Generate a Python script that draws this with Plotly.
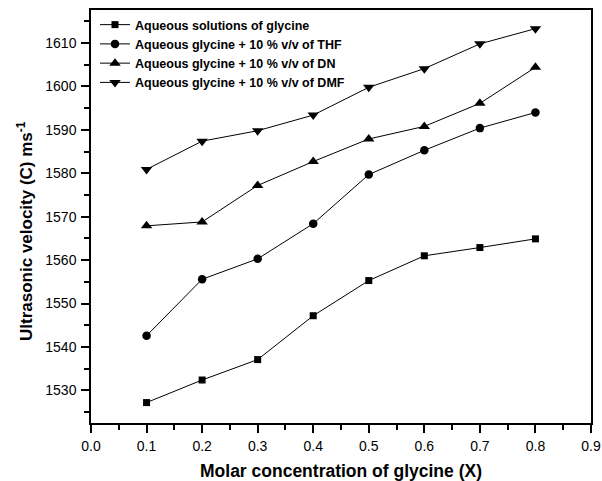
import plotly.graph_objects as go

x_vals = [0.1, 0.2, 0.3, 0.4, 0.5, 0.6, 0.7, 0.8]
glycine = [1527.2, 1532.4, 1537.1, 1547.2, 1555.3, 1561.0, 1562.9, 1564.9]
thf = [1542.6, 1555.6, 1560.3, 1568.4, 1579.7, 1585.3, 1590.4, 1594.0]
dn = [1567.9, 1568.8, 1577.2, 1582.7, 1587.9, 1590.8, 1596.1, 1604.4]
dmf = [1580.9, 1587.4, 1589.8, 1593.4, 1599.8, 1604.1, 1609.8, 1613.3]

names = ["Aqueous solutions of glycine",
         "Aqueous glycine + 10 % v/v of THF",
         "Aqueous glycine + 10 % v/v of DN",
         "Aqueous glycine + 10 % v/v of DMF"]
symbols = ["square", "circle", "triangle-up", "triangle-down"]
sizes = [7, 8.5, 10, 10]
series = [glycine, thf, dn, dmf]

x_ticks = [0.0, 0.1, 0.2, 0.3, 0.4, 0.5, 0.6, 0.7, 0.8, 0.9]
x_ticktext = ["0.0", "0.1", "0.2", "0.3", "0.4", "0.5", "0.6", "0.7", "0.8", "0.9"]
y_ticks = [1530, 1540, 1550, 1560, 1570, 1580, 1590, 1600, 1610]

fig = go.Figure()
for nm, sym, sz, ys in zip(names, symbols, sizes, series):
    fig.add_trace(go.Scatter(
        x=x_vals, y=ys, name=nm, mode="lines+markers",
        line=dict(color="black", width=1),
        marker=dict(symbol=sym, size=sz, color="black"),
    ))

font_family = "Liberation Sans, Arial, sans-serif"
fig.update_layout(
    width=602, height=481,
    margin=dict(l=91, r=11, t=10, b=58),
    paper_bgcolor="white", plot_bgcolor="white",
    font=dict(family=font_family, color="black"),
    showlegend=True,
    legend=dict(x=0.008, y=1.0, xanchor="left", yanchor="top",
                bgcolor="rgba(0,0,0,0)",
                font=dict(size=12.5, weight="bold", family=font_family),
                tracegroupgap=0, itemwidth=30),
    xaxis=dict(
        range=[0.0, 0.9], tickvals=x_ticks, ticktext=x_ticktext,
        automargin=False,
        ticks="outside", ticklen=8, tickwidth=1.5, tickcolor="black",
        ticklabelstandoff=1,
        minor=dict(dtick=0.05, ticks="outside", ticklen=5, tickwidth=1.5, tickcolor="black", showgrid=False),
        showline=True, linecolor="black", linewidth=1.5, mirror=True,
        showgrid=False, zeroline=False,
        tickfont=dict(size=14),
    ),
    yaxis=dict(
        range=[1522.5, 1617.6], tickvals=y_ticks,
        automargin=False,
        ticks="outside", ticklen=8, tickwidth=1.5, tickcolor="black",
        ticklabelstandoff=2,
        minor=dict(dtick=5, tick0=1525, ticks="outside", ticklen=5, tickwidth=1.5, tickcolor="black", showgrid=False),
        showline=True, linecolor="black", linewidth=1.5, mirror=True,
        showgrid=False, zeroline=False,
        tickfont=dict(size=14),
    ),
    annotations=[
        dict(
            text="Ultrasonic velocity (C) ms<sup>-1</sup>",
            xref="paper", yref="paper", x=-0.132, y=0.465,
            xanchor="center", yanchor="middle", textangle=-90, showarrow=False,
            font=dict(size=17, weight="bold", family=font_family),
        ),
        dict(
            text="Molar concentration of glycine (X)",
            xref="paper", yref="paper", x=0.5, y=-0.117,
            xanchor="center", yanchor="middle", showarrow=False,
            borderpad=0,
            font=dict(size=17.5, weight="bold", family=font_family),
        ),
    ],
)

fig.write_html("out.html")
